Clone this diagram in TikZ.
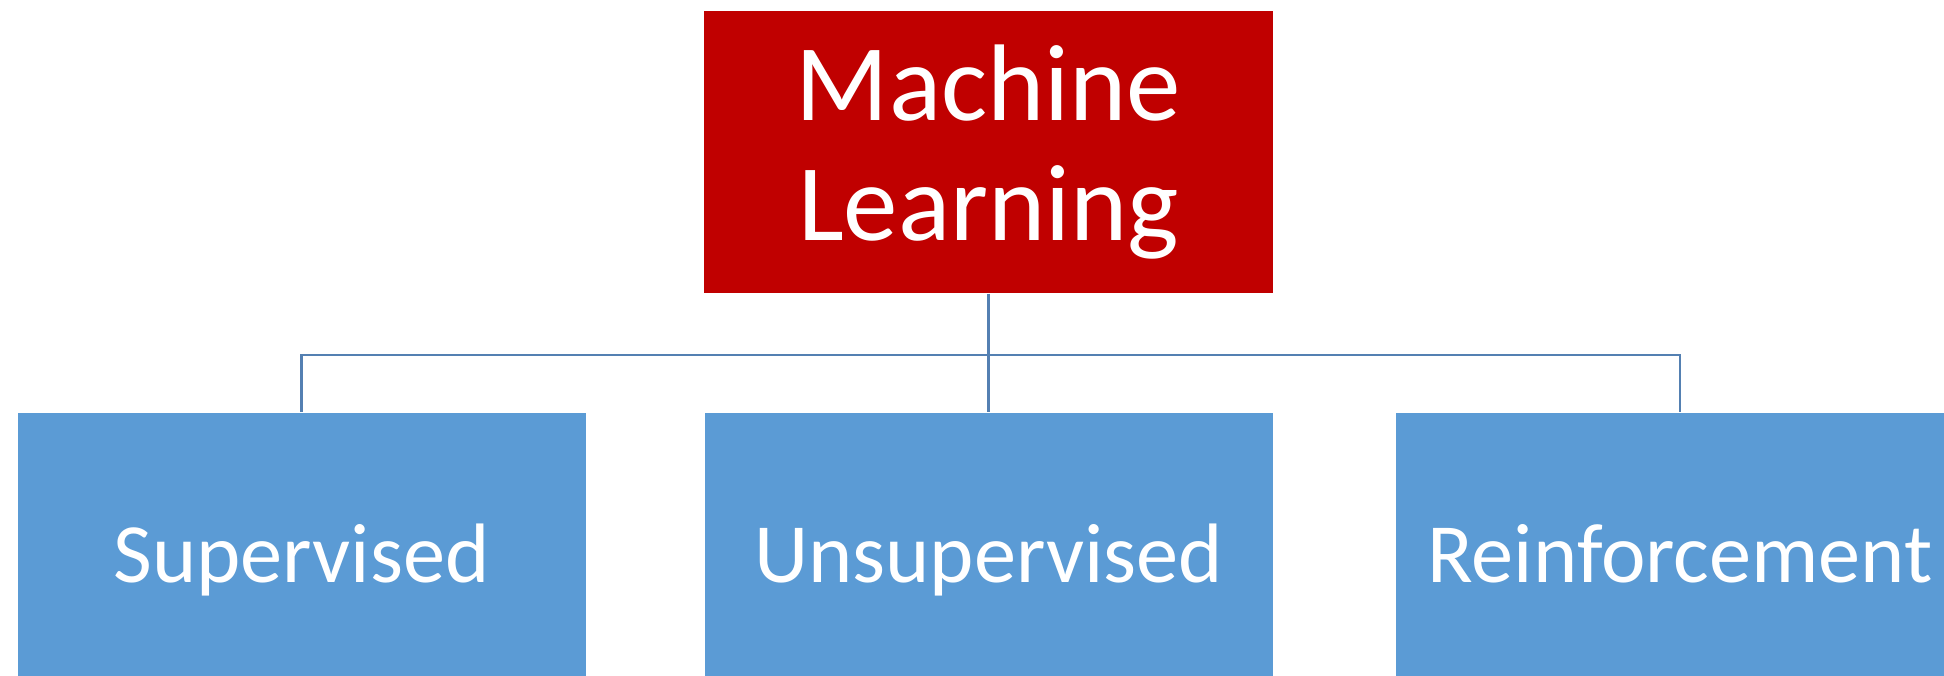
\documentclass[tikz,border=0pt]{standalone}
\usepackage{fontspec}
\setmainfont{Carlito}
\usepackage{tikz}
\definecolor{mlred}{RGB}{192,0,0}
\definecolor{typeblue}{RGB}{91,155,213}
\definecolor{linkblue}{RGB}{84,128,178}
\tikzset{topbox/.style={fill=mlred,text=white,minimum width=5.69cm,minimum height=2.82cm,inner sep=0pt,align=center,font=\fontsize{31}{34}\selectfont}}
\tikzset{typebox/.style={fill=typeblue,text=white,minimum width=5.68cm,minimum height=2.82cm,inner sep=0pt,text height=21pt,text depth=5pt,font=\fontsize{24}{28}\selectfont}}
\tikzset{link/.style={draw=linkblue,line width=0.7pt}}

\begin{document}
\begin{tikzpicture}
                    \useasboundingbox (0,0) rectangle (19.44,-6.76);
                    \clip (0,0) rectangle (19.44,-6.76);

                    \node[topbox] (ml) at (9.885,-1.52) {Machine\\Learning};

                    \node[typebox] (sup) at (3.015,-5.54) {Supervised};
                    \node[typebox] (unsup) at (9.885,-5.54) {Unsupervised};
                    \node[typebox] (rein) at (16.80,-5.54) {Reinforcement};

                    \coordinate (bar) at (9.885,-3.55);

                    \draw[link] (ml.south) -- (bar);
                    \draw[link] (bar) -| (sup.north);
                    \draw[link] (bar) -- (unsup.north);
                    \draw[link] (bar) -| (rein.north);

                \end{tikzpicture}
\end{document}
